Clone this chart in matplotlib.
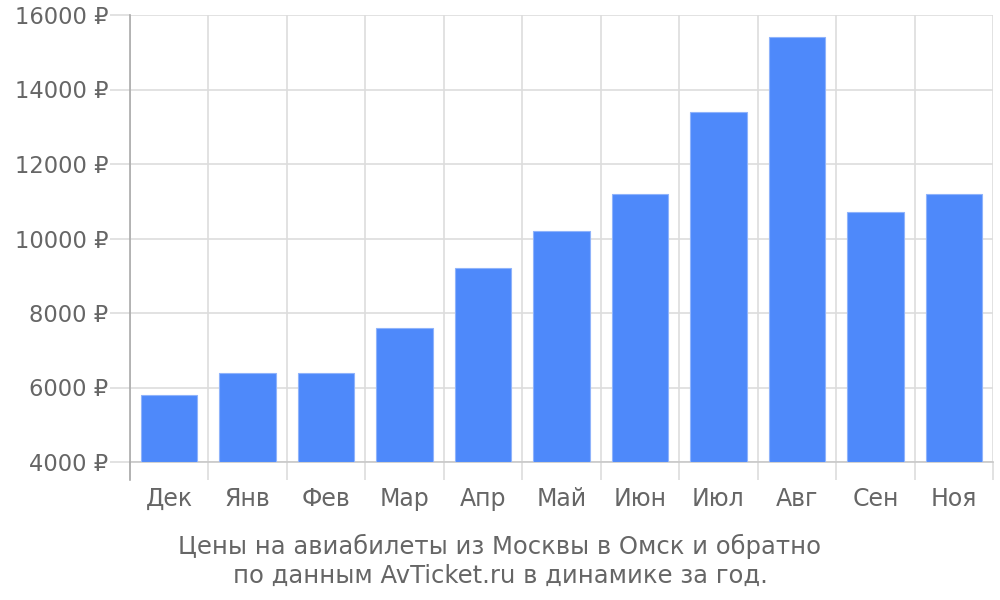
import matplotlib
matplotlib.use("Agg")
import matplotlib.pyplot as plt
import numpy as np

months = ["Дек", "Янв", "Фев", "Мар", "Апр", "Май", "Июн", "Июл", "Авг", "Сен", "Ноя"]
prices = [5800, 6400, 6400, 7600, 9200, 10200, 11200, 13400, 15400, 10700, 11200]
y_ticks = [4000, 6000, 8000, 10000, 12000, 14000, 16000]
title = "Цены на авиабилеты из Москвы в Омск и обратно\nпо данным AvTicket.ru в динамике за год."

plt.rcParams['font.family'] = ['DejaVu Sans']
text_color = "#666666"
grid_color = "#dddddd"

fig = plt.figure(figsize=(10, 6), dpi=100)
ax = fig.add_axes([0.13, 0.23, 0.863, 0.745])

x = np.arange(len(months))
ax.bar(x, [p - 4000 for p in prices], bottom=4000, width=0.72,
       color="#4e89fa", edgecolor="#8fb3fb", linewidth=0.8, zorder=3)

ax.set_xlim(-0.5, len(months) - 0.5)
ax.set_ylim(4000, 16000)

# y axis
ax.set_yticks(y_ticks)
ax.set_yticklabels([f"{v} ₽" for v in y_ticks])
ax.tick_params(axis="y", length=14.4, color=grid_color, width=1.2, pad=1,
               labelsize=16.3, labelcolor=text_color)
ax.grid(axis="y", color=grid_color, linewidth=1.2, zorder=0)

# x axis: boundaries as major ticks, names on minor ticks
ax.set_xticks(np.arange(len(months) + 1) - 0.5)
ax.set_xticklabels([])
ax.set_xticks(x, minor=True)
ax.set_xticklabels(months, minor=True)
ax.tick_params(axis="x", which="major", length=13, color=grid_color, width=1.2)
ax.tick_params(axis="x", which="minor", length=0, pad=18,
               labelsize=17, labelcolor=text_color)
ax.grid(axis="x", which="major", color=grid_color, linewidth=1.2, zorder=0)

for s in ["top", "right"]:
    ax.spines[s].set_visible(False)
ax.spines["bottom"].set_color("#c8c8c8")
ax.spines["bottom"].set_linewidth(1.2)
ax.spines["left"].set_color("#aaaaaa")
ax.spines["left"].set_linewidth(1.2)
ax.spines["left"].set_bounds(4000, 16000)
# extend left spine downward like the tick marks
ax.plot([-0.5, -0.5], [4000 - 12000 * 18 / 447, 4000], color="#aaaaaa",
        linewidth=1.2, clip_on=False, zorder=4)

fig.text(0.5, 0.065, title, ha="center", va="center", fontsize=17.5,
         color=text_color, linespacing=1.28)

fig.savefig("out.png", dpi=100)
